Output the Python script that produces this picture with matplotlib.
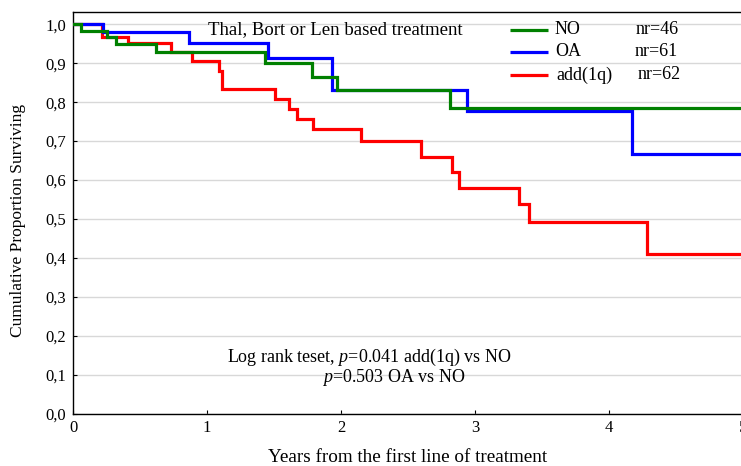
import matplotlib
matplotlib.use("Agg")
import matplotlib.pyplot as plt
from matplotlib.ticker import FixedLocator, FuncFormatter

# Kaplan-Meier step estimates (time in years, survival after each event)
groups = ["NO", "OA", "add(1q)"]
counts = [46, 61, 62]
colors = ["#008000", "#0000FF", "#FF0000"]

no_times = [0.0, 0.057, 0.25, 0.32, 0.62, 1.43, 1.78, 1.97, 2.81, 5.0]
no_surv = [1.0, 0.984, 0.968, 0.950, 0.928, 0.900, 0.866, 0.831, 0.785, 0.785]

oa_times = [0.0, 0.226, 0.868, 1.457, 1.93, 2.94, 4.17, 5.0]
oa_surv = [1.0, 0.980, 0.951, 0.913, 0.831, 0.778, 0.667, 0.667]

add_times = [0.0, 0.22, 0.41, 0.73, 0.89, 1.09, 1.11, 1.51, 1.61, 1.67,
             1.79, 2.15, 2.60, 2.83, 2.88, 3.33, 3.40, 4.28, 5.0]
add_surv = [1.0, 0.967, 0.951, 0.928, 0.906, 0.880, 0.833, 0.808, 0.782, 0.758,
            0.731, 0.699, 0.659, 0.620, 0.580, 0.538, 0.491, 0.410, 0.410]

x_ticks = [0, 1, 2, 3, 4, 5]
y_ticks = [0.0, 0.1, 0.2, 0.3, 0.4, 0.5, 0.6, 0.7, 0.8, 0.9, 1.0]

title_text = "Thal, Bort or Len based treatment"
xlabel = "Years from the first line of treatment"
ylabel = "Cumulative Proportion Surviving"
test_line1 = "Log rank teset, $p$=0.041 add(1q) vs NO"
test_line2 = "$p$=0.503 OA vs NO"

plt.rcParams["font.family"] = ["Liberation Serif", "DejaVu Serif"]
plt.rcParams["mathtext.fontset"] = "custom"
plt.rcParams["mathtext.it"] = "Liberation Serif:italic"
plt.rcParams["mathtext.rm"] = "Liberation Serif"

W, H = 741, 466
fig = plt.figure(figsize=(W / 100, H / 100), dpi=100)
# axes box in pixels: x from 73 to 743, y from 413.5 (bottom) to 12.3 (top)
ax = fig.add_axes([73 / W, (H - 413.5) / H, 670 / W, 401.2 / H])


def px(x, y):
    """Pixel position (from top-left) to data coordinates."""
    return (x - 73) / 134.0, (413.5 - y) / 389.0


series = [(add_times, add_surv, 2), (oa_times, oa_surv, 1), (no_times, no_surv, 0)]
for t, s, i in series:
    ax.step(t, s, where="post", color=colors[i], lw=2.3, zorder=3 + (2 - i),
            solid_joinstyle="miter")

ax.set_xlim(0, 5)
ax.set_ylim(0, 1.031)
ax.xaxis.set_major_locator(FixedLocator(x_ticks))
ax.yaxis.set_major_locator(FixedLocator(y_ticks))
ax.yaxis.set_major_formatter(FuncFormatter(lambda v, p: f"{v:.1f}".replace(".", ",")))
ax.tick_params(direction="in", length=3, width=0.8, labelsize=12, pad=5)
ax.grid(axis="y", color="#d8d8d8", lw=1.0)
ax.set_axisbelow(True)
for side in ["left", "bottom", "top"]:
    ax.spines[side].set_linewidth(1.0)
ax.spines["right"].set_visible(False)

ax.set_xlabel(xlabel, fontsize=13.8)
ax.xaxis.set_label_coords((408 - 73) / 670, (413.5 - 449) / 401.2)
ax.set_ylabel(ylabel, fontsize=12.5)
ax.yaxis.set_label_coords((26 - 73) / 670, (413.5 - 220) / 401.2)

tx, ty = px(335, 30)
ax.text(tx, ty, title_text, fontsize=13.5, ha="center", va="center")

# legend rows: colored line, group name, count
row_y = [30, 52, 75]
name_x = [555, 555, 556]
count_x = [636, 635, 638]
for i, (g, n, c) in enumerate(zip(groups, counts, colors)):
    x0, yv = px(510, row_y[i])
    x1, _ = px(548, row_y[i])
    ax.plot([x0, x1], [yv, yv], color=c, lw=2.3, solid_capstyle="butt", zorder=6)
    ax.text(px(name_x[i], 0)[0], yv, g, fontsize=13, va="center", ha="left")
    ax.text(px(count_x[i], 0)[0], yv, f"nr={n}", fontsize=13, va="center", ha="left")

ax.text(*px(511, 357), test_line1, fontsize=13, va="center", ha="right")
ax.text(*px(322, 378), test_line2, fontsize=13, va="center", ha="left")

fig.savefig("out.png", dpi=100)
